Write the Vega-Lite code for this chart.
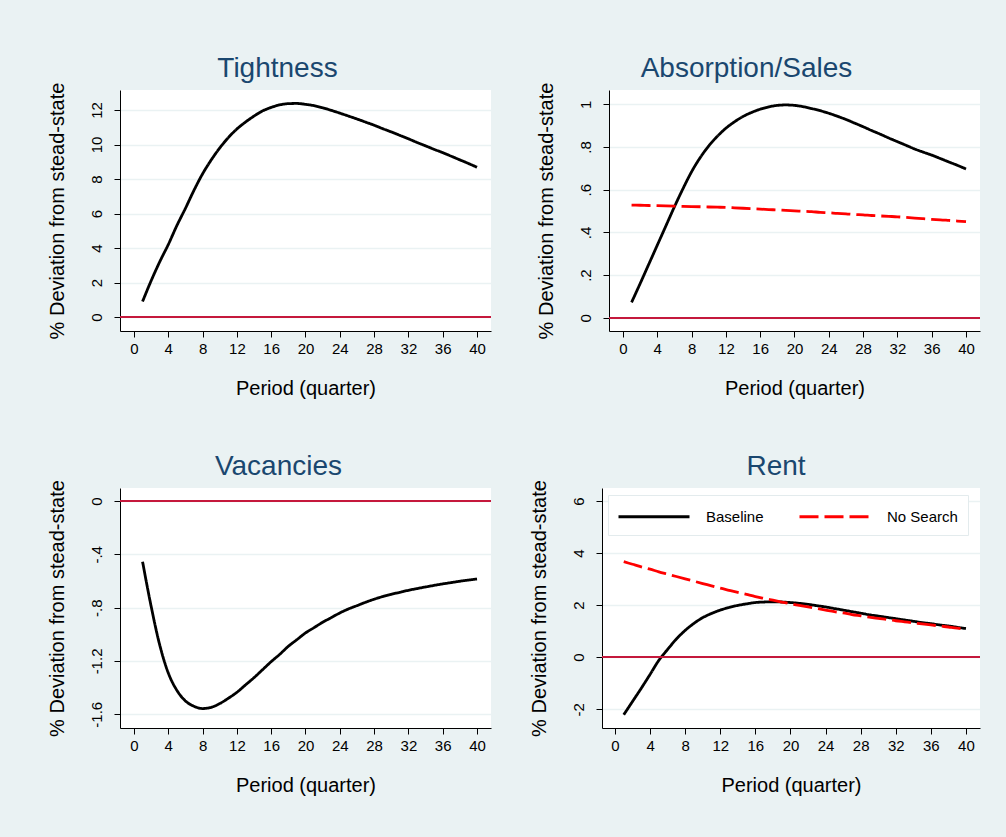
{
  "$schema": "https://vega.github.io/schema/vega-lite/v6.json",
  "background": "#eaf2f3",
  "padding": {"left": 46, "top": 55, "right": 26, "bottom": 45},
  "config": {
    "font": "Liberation Sans",
    "view": {"fill": "white", "stroke": null},
    "axis": {
      "domainColor": "#000000", "domainWidth": 1, "tickColor": "#000000", "tickSize": 6, "tickWidth": 1,
      "labelColor": "#000000", "labelFont": "Liberation Sans", "labelFontSize": 15,
      "titleColor": "#000000", "titleFont": "Liberation Sans", "titleFontSize": 20, "titleFontWeight": "normal",
      "gridColor": "#eaf2f3", "gridWidth": 1.5, "labelFlush": false, "labelOverlap": false
    },
    "axisX": {"grid": false, "labelPadding": 4, "titlePadding": 22, "labelAngle": 0},
    "axisY": {"grid": true, "labelPadding": 10, "titlePadding": 22, "labelAngle": -90, "labelExpr": "replace(toString(datum.value), '0.', '.')"},
    "title": {"color": "#1a476f", "font": "Liberation Sans", "fontSize": 28, "fontWeight": "normal", "baseline": "alphabetic", "offset": -1},
    "line": {"strokeWidth": 2.8, "interpolate": "monotone"}
  },
  "datasets": {
    "tight": [
      {"t":1,"s":"Baseline","v":0.9},{"t":2,"s":"Baseline","v":2.1},{"t":3,"s":"Baseline","v":3.2},{"t":4,"s":"Baseline","v":4.2},{"t":5,"s":"Baseline","v":5.3},
      {"t":6,"s":"Baseline","v":6.3},{"t":7,"s":"Baseline","v":7.35},{"t":8,"s":"Baseline","v":8.3},{"t":9,"s":"Baseline","v":9.1},{"t":10,"s":"Baseline","v":9.8},
      {"t":11,"s":"Baseline","v":10.4},{"t":12,"s":"Baseline","v":10.9},{"t":13,"s":"Baseline","v":11.3},{"t":14,"s":"Baseline","v":11.65},{"t":15,"s":"Baseline","v":11.95},
      {"t":16,"s":"Baseline","v":12.15},{"t":17,"s":"Baseline","v":12.3},{"t":18,"s":"Baseline","v":12.37},{"t":19,"s":"Baseline","v":12.38},{"t":20,"s":"Baseline","v":12.33},
      {"t":21,"s":"Baseline","v":12.25},{"t":22,"s":"Baseline","v":12.13},{"t":23,"s":"Baseline","v":11.98},{"t":24,"s":"Baseline","v":11.82},{"t":25,"s":"Baseline","v":11.65},
      {"t":26,"s":"Baseline","v":11.48},{"t":27,"s":"Baseline","v":11.3},{"t":28,"s":"Baseline","v":11.12},{"t":29,"s":"Baseline","v":10.92},{"t":30,"s":"Baseline","v":10.73},
      {"t":31,"s":"Baseline","v":10.53},{"t":32,"s":"Baseline","v":10.33},{"t":33,"s":"Baseline","v":10.12},{"t":34,"s":"Baseline","v":9.92},{"t":35,"s":"Baseline","v":9.72},
      {"t":36,"s":"Baseline","v":9.53},{"t":37,"s":"Baseline","v":9.32},{"t":38,"s":"Baseline","v":9.11},{"t":39,"s":"Baseline","v":8.9},{"t":40,"s":"Baseline","v":8.68}
    ],
    "absorb": [
      {"t":1,"s":"Baseline","v":0.072},{"t":2,"s":"Baseline","v":0.16},{"t":3,"s":"Baseline","v":0.25},{"t":4,"s":"Baseline","v":0.34},{"t":5,"s":"Baseline","v":0.43},
      {"t":6,"s":"Baseline","v":0.52},{"t":7,"s":"Baseline","v":0.605},{"t":8,"s":"Baseline","v":0.684},{"t":9,"s":"Baseline","v":0.75},{"t":10,"s":"Baseline","v":0.805},
      {"t":11,"s":"Baseline","v":0.85},{"t":12,"s":"Baseline","v":0.888},{"t":13,"s":"Baseline","v":0.918},{"t":14,"s":"Baseline","v":0.943},{"t":15,"s":"Baseline","v":0.962},
      {"t":16,"s":"Baseline","v":0.977},{"t":17,"s":"Baseline","v":0.988},{"t":18,"s":"Baseline","v":0.995},{"t":19,"s":"Baseline","v":0.997},{"t":20,"s":"Baseline","v":0.995},
      {"t":21,"s":"Baseline","v":0.989},{"t":22,"s":"Baseline","v":0.98},{"t":23,"s":"Baseline","v":0.97},{"t":24,"s":"Baseline","v":0.958},{"t":25,"s":"Baseline","v":0.944},
      {"t":26,"s":"Baseline","v":0.929},{"t":27,"s":"Baseline","v":0.912},{"t":28,"s":"Baseline","v":0.895},{"t":29,"s":"Baseline","v":0.877},{"t":30,"s":"Baseline","v":0.86},
      {"t":31,"s":"Baseline","v":0.842},{"t":32,"s":"Baseline","v":0.825},{"t":33,"s":"Baseline","v":0.808},{"t":34,"s":"Baseline","v":0.791},{"t":35,"s":"Baseline","v":0.776},
      {"t":36,"s":"Baseline","v":0.762},{"t":37,"s":"Baseline","v":0.746},{"t":38,"s":"Baseline","v":0.73},{"t":39,"s":"Baseline","v":0.714},{"t":40,"s":"Baseline","v":0.697},
      {"t":1,"s":"No Search","v":0.528},{"t":2,"s":"No Search","v":0.527},{"t":3,"s":"No Search","v":0.526},{"t":4,"s":"No Search","v":0.525},{"t":5,"s":"No Search","v":0.524},
      {"t":6,"s":"No Search","v":0.523},{"t":7,"s":"No Search","v":0.522},{"t":8,"s":"No Search","v":0.521},{"t":9,"s":"No Search","v":0.52},{"t":10,"s":"No Search","v":0.519},
      {"t":11,"s":"No Search","v":0.518},{"t":12,"s":"No Search","v":0.517},{"t":13,"s":"No Search","v":0.515},{"t":14,"s":"No Search","v":0.513},{"t":15,"s":"No Search","v":0.511},
      {"t":16,"s":"No Search","v":0.509},{"t":17,"s":"No Search","v":0.507},{"t":18,"s":"No Search","v":0.505},{"t":19,"s":"No Search","v":0.503},{"t":20,"s":"No Search","v":0.501},
      {"t":21,"s":"No Search","v":0.499},{"t":22,"s":"No Search","v":0.497},{"t":23,"s":"No Search","v":0.494},{"t":24,"s":"No Search","v":0.492},{"t":25,"s":"No Search","v":0.489},
      {"t":26,"s":"No Search","v":0.487},{"t":27,"s":"No Search","v":0.484},{"t":28,"s":"No Search","v":0.482},{"t":29,"s":"No Search","v":0.479},{"t":30,"s":"No Search","v":0.477},
      {"t":31,"s":"No Search","v":0.475},{"t":32,"s":"No Search","v":0.473},{"t":33,"s":"No Search","v":0.47},{"t":34,"s":"No Search","v":0.467},{"t":35,"s":"No Search","v":0.464},
      {"t":36,"s":"No Search","v":0.461},{"t":37,"s":"No Search","v":0.459},{"t":38,"s":"No Search","v":0.456},{"t":39,"s":"No Search","v":0.453},{"t":40,"s":"No Search","v":0.45}
    ],
    "vac": [
      {"t":1,"s":"Baseline","v":-0.455},{"t":2,"s":"Baseline","v":-0.79},{"t":3,"s":"Baseline","v":-1.08},{"t":4,"s":"Baseline","v":-1.29},{"t":5,"s":"Baseline","v":-1.42},
      {"t":6,"s":"Baseline","v":-1.5},{"t":7,"s":"Baseline","v":-1.54},{"t":8,"s":"Baseline","v":-1.557},{"t":9,"s":"Baseline","v":-1.548},{"t":10,"s":"Baseline","v":-1.52},
      {"t":11,"s":"Baseline","v":-1.48},{"t":12,"s":"Baseline","v":-1.435},{"t":13,"s":"Baseline","v":-1.38},{"t":14,"s":"Baseline","v":-1.325},{"t":15,"s":"Baseline","v":-1.265},
      {"t":16,"s":"Baseline","v":-1.205},{"t":17,"s":"Baseline","v":-1.15},{"t":18,"s":"Baseline","v":-1.09},{"t":19,"s":"Baseline","v":-1.04},{"t":20,"s":"Baseline","v":-0.99},
      {"t":21,"s":"Baseline","v":-0.95},{"t":22,"s":"Baseline","v":-0.91},{"t":23,"s":"Baseline","v":-0.875},{"t":24,"s":"Baseline","v":-0.84},{"t":25,"s":"Baseline","v":-0.81},
      {"t":26,"s":"Baseline","v":-0.785},{"t":27,"s":"Baseline","v":-0.76},{"t":28,"s":"Baseline","v":-0.737},{"t":29,"s":"Baseline","v":-0.717},{"t":30,"s":"Baseline","v":-0.7},
      {"t":31,"s":"Baseline","v":-0.685},{"t":32,"s":"Baseline","v":-0.67},{"t":33,"s":"Baseline","v":-0.657},{"t":34,"s":"Baseline","v":-0.645},{"t":35,"s":"Baseline","v":-0.633},
      {"t":36,"s":"Baseline","v":-0.622},{"t":37,"s":"Baseline","v":-0.612},{"t":38,"s":"Baseline","v":-0.602},{"t":39,"s":"Baseline","v":-0.593},{"t":40,"s":"Baseline","v":-0.585}
    ],
    "rent": [
      {"t":1,"s":"Baseline","v":-2.21},{"t":2,"s":"Baseline","v":-1.7},{"t":3,"s":"Baseline","v":-1.19},{"t":4,"s":"Baseline","v":-0.66},{"t":5,"s":"Baseline","v":-0.12},
      {"t":6,"s":"Baseline","v":0.3},{"t":7,"s":"Baseline","v":0.7},{"t":8,"s":"Baseline","v":1.03},{"t":9,"s":"Baseline","v":1.3},{"t":10,"s":"Baseline","v":1.52},
      {"t":11,"s":"Baseline","v":1.68},{"t":12,"s":"Baseline","v":1.81},{"t":13,"s":"Baseline","v":1.91},{"t":14,"s":"Baseline","v":1.99},{"t":15,"s":"Baseline","v":2.05},
      {"t":16,"s":"Baseline","v":2.1},{"t":17,"s":"Baseline","v":2.12},{"t":18,"s":"Baseline","v":2.13},{"t":19,"s":"Baseline","v":2.12},{"t":20,"s":"Baseline","v":2.1},
      {"t":21,"s":"Baseline","v":2.07},{"t":22,"s":"Baseline","v":2.03},{"t":23,"s":"Baseline","v":1.98},{"t":24,"s":"Baseline","v":1.93},{"t":25,"s":"Baseline","v":1.87},
      {"t":26,"s":"Baseline","v":1.81},{"t":27,"s":"Baseline","v":1.75},{"t":28,"s":"Baseline","v":1.69},{"t":29,"s":"Baseline","v":1.63},{"t":30,"s":"Baseline","v":1.58},
      {"t":31,"s":"Baseline","v":1.53},{"t":32,"s":"Baseline","v":1.48},{"t":33,"s":"Baseline","v":1.43},{"t":34,"s":"Baseline","v":1.38},{"t":35,"s":"Baseline","v":1.33},
      {"t":36,"s":"Baseline","v":1.29},{"t":37,"s":"Baseline","v":1.24},{"t":38,"s":"Baseline","v":1.2},{"t":39,"s":"Baseline","v":1.15},{"t":40,"s":"Baseline","v":1.1},
      {"t":1,"s":"No Search","v":3.67},{"t":2,"s":"No Search","v":3.57},{"t":3,"s":"No Search","v":3.47},{"t":4,"s":"No Search","v":3.38},{"t":5,"s":"No Search","v":3.28},
      {"t":6,"s":"No Search","v":3.19},{"t":7,"s":"No Search","v":3.1},{"t":8,"s":"No Search","v":3.01},{"t":9,"s":"No Search","v":2.92},{"t":10,"s":"No Search","v":2.83},
      {"t":11,"s":"No Search","v":2.74},{"t":12,"s":"No Search","v":2.65},{"t":13,"s":"No Search","v":2.57},{"t":14,"s":"No Search","v":2.49},{"t":15,"s":"No Search","v":2.41},
      {"t":16,"s":"No Search","v":2.33},{"t":17,"s":"No Search","v":2.26},{"t":18,"s":"No Search","v":2.19},{"t":19,"s":"No Search","v":2.12},{"t":20,"s":"No Search","v":2.05},
      {"t":21,"s":"No Search","v":1.99},{"t":22,"s":"No Search","v":1.93},{"t":23,"s":"No Search","v":1.87},{"t":24,"s":"No Search","v":1.81},{"t":25,"s":"No Search","v":1.75},
      {"t":26,"s":"No Search","v":1.7},{"t":27,"s":"No Search","v":1.64},{"t":28,"s":"No Search","v":1.59},{"t":29,"s":"No Search","v":1.54},{"t":30,"s":"No Search","v":1.49},
      {"t":31,"s":"No Search","v":1.45},{"t":32,"s":"No Search","v":1.4},{"t":33,"s":"No Search","v":1.36},{"t":34,"s":"No Search","v":1.32},{"t":35,"s":"No Search","v":1.28},
      {"t":36,"s":"No Search","v":1.24},{"t":37,"s":"No Search","v":1.2},{"t":38,"s":"No Search","v":1.16},{"t":39,"s":"No Search","v":1.12},{"t":40,"s":"No Search","v":1.07}
    ]
  },
  "resolve": {"scale": {"color": "independent", "strokeDash": "independent"}, "legend": {"color": "independent", "strokeDash": "independent"}},
  "spacing": 54,
  "vconcat": [
    {
      "hconcat": [
        {
          "title": {"text": "Tightness", "dx": -28},
          "width": 371, "height": 241,
          "data": {"name": "tight"},
          "layer": [
            {"mark": {"type": "line"},
             "encoding": {
               "x": {"field": "t", "type": "quantitative", "scale": {"domain": [-1.63, 41.63], "nice": false, "zero": false},
                     "axis": {"values": [0,4,8,12,16,20,24,28,32,36,40], "title": "Period (quarter)"}},
               "y": {"field": "v", "type": "quantitative", "scale": {"domain": [-0.81, 13.16], "nice": false, "zero": false},
                     "axis": {"values": [0,2,4,6,8,10,12], "title": "% Deviation from stead-state"}},
               "color": {"field": "s", "type": "nominal", "scale": {"domain": ["Baseline", "No Search"], "range": ["#000000", "#ff0000"]}, "legend": null},
               "strokeDash": {"field": "s", "type": "nominal", "scale": {"domain": ["Baseline", "No Search"], "range": [[1, 0], [19, 6]]}, "legend": null}
             }},
            {"mark": {"type": "rule", "color": "#c4183c", "strokeWidth": 1.6},
             "encoding": {"y": {"datum": 0, "type": "quantitative", "scale": {"domain": [-0.81, 13.16], "nice": false, "zero": false}}}}
          ]
        },
        {
          "title": {"text": "Absorption/Sales", "dx": -48},
          "width": 371, "height": 241,
          "data": {"name": "absorb"},
          "layer": [
            {"mark": {"type": "line"},
             "encoding": {
               "x": {"field": "t", "type": "quantitative", "scale": {"domain": [-1.63, 41.63], "nice": false, "zero": false},
                     "axis": {"values": [0,4,8,12,16,20,24,28,32,36,40], "title": "Period (quarter)"}},
               "y": {"field": "v", "type": "quantitative", "scale": {"domain": [-0.062, 1.067], "nice": false, "zero": false},
                     "axis": {"values": [0,0.2,0.4,0.6,0.8,1], "title": "% Deviation from stead-state"}},
               "color": {"field": "s", "type": "nominal", "scale": {"domain": ["Baseline", "No Search"], "range": ["#000000", "#ff0000"]}, "legend": null},
               "strokeDash": {"field": "s", "type": "nominal", "scale": {"domain": ["Baseline", "No Search"], "range": [[1, 0], [19, 6]]}, "legend": null}
             }},
            {"mark": {"type": "rule", "color": "#c4183c", "strokeWidth": 1.6},
             "encoding": {"y": {"datum": 0, "type": "quantitative", "scale": {"domain": [-0.062, 1.067], "nice": false, "zero": false}}}}
          ]
        }
      ],
      "bounds": "flush",
      "spacing": 118,
      "resolve": {"scale": {"color": "independent", "strokeDash": "independent"}, "legend": {"color": "independent", "strokeDash": "independent"}}
    },
    {
      "hconcat": [
        {
          "title": {"text": "Vacancies", "dx": -27},
          "width": 371, "height": 240,
          "data": {"name": "vac"},
          "layer": [
            {"mark": {"type": "line"},
             "encoding": {
               "x": {"field": "t", "type": "quantitative", "scale": {"domain": [-1.63, 41.63], "nice": false, "zero": false},
                     "axis": {"values": [0,4,8,12,16,20,24,28,32,36,40], "title": "Period (quarter)"}},
               "y": {"field": "v", "type": "quantitative", "scale": {"domain": [-1.703, 0.0975], "nice": false, "zero": false},
                     "axis": {"values": [0,-0.4,-0.8,-1.2,-1.6], "title": "% Deviation from stead-state"}},
               "color": {"field": "s", "type": "nominal", "scale": {"domain": ["Baseline", "No Search"], "range": ["#000000", "#ff0000"]}, "legend": null},
               "strokeDash": {"field": "s", "type": "nominal", "scale": {"domain": ["Baseline", "No Search"], "range": [[1, 0], [19, 6]]}, "legend": null}
             }},
            {"mark": {"type": "rule", "color": "#c4183c", "strokeWidth": 1.6},
             "encoding": {"y": {"datum": 0, "type": "quantitative", "scale": {"domain": [-1.703, 0.0975], "nice": false, "zero": false}}}}
          ]
        },
        {
          "title": {"text": "Rent", "dx": -15},
          "width": 378, "height": 240,
          "data": {"name": "rent"},
          "layer": [
            {"mark": {"type": "line"},
             "encoding": {
               "x": {"field": "t", "type": "quantitative", "scale": {"domain": [-1.48, 41.6], "nice": false, "zero": false},
                     "axis": {"values": [0,4,8,12,16,20,24,28,32,36,40], "title": "Period (quarter)"}},
               "y": {"field": "v", "type": "quantitative", "scale": {"domain": [-2.72, 6.5], "nice": false, "zero": false},
                     "axis": {"values": [-2,0,2,4,6], "title": "% Deviation from stead-state"}},
               "color": {"field": "s", "type": "nominal", "scale": {"domain": ["Baseline", "No Search"], "range": ["#000000", "#ff0000"]},
                         "legend": {"orient": "none", "legendX": 6, "legendY": 7, "direction": "horizontal", "title": null,
                                    "symbolType": "M-3.55,0H3.55", "symbolSize": 400, "symbolStrokeWidth": 2.8, "symbolOffset": 24.5,
                                    "labelFont": "Liberation Sans", "labelFontSize": 15, "labelColor": "#000000", "labelOffset": 40.5,
                                    "columnPadding": 29, "padding": 10, "fillColor": "#ffffff", "strokeColor": "#e3ebed"}},
               "strokeDash": {"field": "s", "type": "nominal", "scale": {"domain": ["Baseline", "No Search"], "range": [[1, 0], [19, 6]]},
                         "legend": {"orient": "none", "legendX": 6, "legendY": 7, "direction": "horizontal", "title": null,
                                    "symbolType": "M-3.55,0H3.55", "symbolSize": 400, "symbolStrokeWidth": 2.8, "symbolOffset": 24.5,
                                    "labelFont": "Liberation Sans", "labelFontSize": 15, "labelColor": "#000000", "labelOffset": 40.5,
                                    "columnPadding": 29, "padding": 10, "fillColor": "#ffffff", "strokeColor": "#e3ebed"}}
             }},
            {"mark": {"type": "rule", "color": "#c4183c", "strokeWidth": 1.6},
             "encoding": {"y": {"datum": 0, "type": "quantitative", "scale": {"domain": [-2.72, 6.5], "nice": false, "zero": false}}}}
          ]
        }
      ],
      "bounds": "flush",
      "spacing": 111,
      "resolve": {"scale": {"color": "independent", "strokeDash": "independent"}, "legend": {"color": "independent", "strokeDash": "independent"}}
    }
  ]
}
